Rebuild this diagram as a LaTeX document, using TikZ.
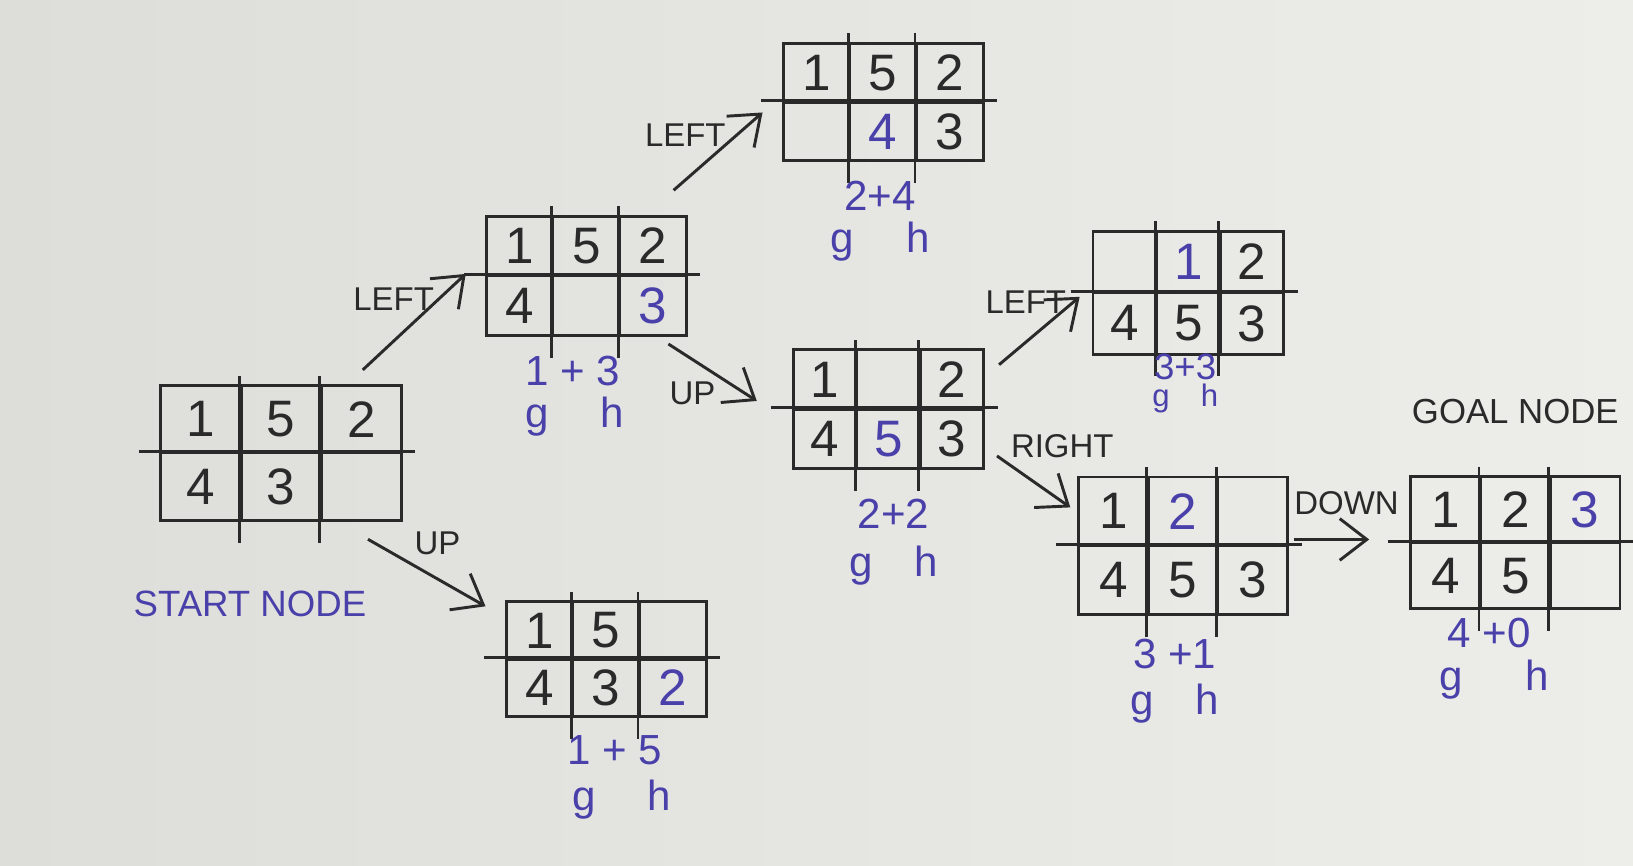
\documentclass[tikz,border=0pt]{standalone}
\usepackage{fontspec}
\setmainfont{Liberation Sans}
\usetikzlibrary{matrix,arrows.meta}
\definecolor{ink}{RGB}{42,42,42}
\definecolor{bluepen}{RGB}{74,64,170}
\definecolor{paperL}{RGB}{221,222,218}
\definecolor{paperR}{RGB}{237,237,234}

\begin{document}
\begin{tikzpicture}[x=0.1mm, y=-0.1mm, line width=0.8pt]
\tikzset{
  puzzle/.style={matrix of nodes, nodes in empty cells, inner sep=0pt,
    column sep=-\pgflinewidth, row sep=-\pgflinewidth,
    nodes={draw=ink, anchor=center, inner sep=0pt, text=ink, font=\fontsize{14}{16}\selectfont}},
  moved/.style={text=bluepen},
  move/.style={draw=ink, -{Straight Barb[length=2.6mm,width=4mm]}},
  movename/.style={text=ink, font=\fontsize{9}{11}\selectfont},
  cost/.style={text=bluepen, inner sep=1pt, font=\fontsize{11.5}{13}\selectfont}
}
% paper
\useasboundingbox (0,0) rectangle (1568,831);
\shade[left color=paperL, right color=paperR] (0,0) rectangle (1568,831);

% the boards
\matrix[puzzle, nodes={minimum width=7.7mm, minimum height=6.5mm}] (b1) at (270,435)
  {1 & 5 & 2\\ 4 & 3 & \\};
\matrix[puzzle, nodes={minimum width=6.4mm, minimum height=5.75mm}] (b2) at (563,265)
  {1 & 5 & 2\\ 4 & & |[moved]| 3\\};
\matrix[puzzle, nodes={minimum width=6.4mm, minimum height=5.5mm}] (b3) at (582,633)
  {1 & 5 & \\ 4 & 3 & |[moved]| 2\\};
\matrix[puzzle, nodes={minimum width=6.4mm, minimum height=5.65mm}] (b4) at (848,98)
  {1 & 5 & 2\\ & |[moved]| 4 & 3\\};
\matrix[puzzle, nodes={minimum width=6.1mm, minimum height=5.7mm}] (b5) at (853,393)
  {1 & & 2\\ 4 & |[moved]| 5 & 3\\};
\matrix[puzzle, nodes={minimum width=6.1mm, minimum height=5.9mm}] (b6) at (1141,281)
  { & |[moved]| 1 & 2\\ 4 & 5 & 3\\};
\matrix[puzzle, nodes={minimum width=6.7mm, minimum height=6.6mm}] (b7) at (1136,524)
  {1 & |[moved]| 2 & \\ 4 & 5 & 3\\};
\matrix[puzzle, nodes={minimum width=6.7mm, minimum height=6.35mm}] (b8) at (1455,521)
  {1 & 2 & |[moved]| 3\\ 4 & 5 & \\};

% pen strokes running past the grid
\foreach \b in {b1,b2,b3,b4,b5,b6,b7,b8}{
  \draw[ink] ([xshift=-2mm]\b-2-1.north west) -- ([xshift=1.2mm]\b-2-3.north east);
  \draw[ink] ([yshift=0.8mm]\b-1-2.north west) -- ([yshift=-2mm]\b-2-2.south west);
  \draw[ink] ([yshift=0.8mm]\b-1-3.north west) -- ([yshift=-2mm]\b-2-3.south west);
}

% moves
\draw[move] ([shift={(-40,-12)}]b1.north east) -- ([shift={(-17,-2)}]b2.west);
\draw[move] ([shift={(-35,15)}]b1.south east) -- ([shift={(-17,7)}]b3.north west);
\draw[move] ([shift={(-15,-22)}]b2.north east) -- ([shift={(-17,10)}]b4.west);
\draw[move] ([shift={(-20,5)}]b2.south east) -- ([shift={(-32,-8)}]b5.west);
\draw[move] ([shift={(12,17)}]b5.north east) -- ([shift={(-10,4)}]b6.west);
\draw[move] ([shift={(10,-15)}]b5.south east) -- ([shift={(-5,32)}]b7.north west);
\draw[move] ([shift={(3,-6)}]b7.east) -- ([shift={(-37,-3)}]b8.west);

\node[movename] (m1) at (378,287) {LEFT};
\node[movename] (m2) at (420,522) {UP};
\node[movename] (m3) at (658,130) {LEFT};
\node[movename] (m4) at (665,378) {UP};
\node[movename] (m5) at (985,290) {LEFT};
\node[movename] (m6) at (1020,428) {RIGHT};
\node[movename] (m7) at (1293,483) {DOWN};

% g + h under each board
\node[cost] (c2) at (550,356) {1 + 3};
\node[cost] (gh2) at (552,400) {g\hspace{5mm}h};
\node[cost] (c3) at (590,720) {1 + 5};
\node[cost] (gh3) at (597,768) {g\hspace{5mm}h};
\node[cost] (c4) at (845,188) {2+4};
\node[cost] (gh4) at (845,232) {g\hspace{5mm}h};
\node[cost] (c5) at (858,493) {2+2};
\node[cost] (gh5) at (858,543) {g\hspace{4mm}h};
\node[cost, font=\fontsize{10}{12}\selectfont] (c6) at (1138,352) {3+3};
\node[cost, font=\fontsize{8.5}{10}\selectfont] (gh6) at (1138,383) {g\hspace{3mm}h};
\node[cost] (c7) at (1128,628) {3 +1};
\node[cost] (gh7) at (1128,676) {g\hspace{4mm}h};
\node[cost] (c8) at (1430,608) {4 +0};
\node[cost] (gh8) at (1435,653) {g\hspace{6mm}h};

\node[cost, font=\fontsize{10}{12}\selectfont] (start) at (240,580) {START NODE};
\node[movename, font=\fontsize{9.5}{11}\selectfont] (goal) at (1455,395) {GOAL NODE};
\end{tikzpicture}
\end{document}
